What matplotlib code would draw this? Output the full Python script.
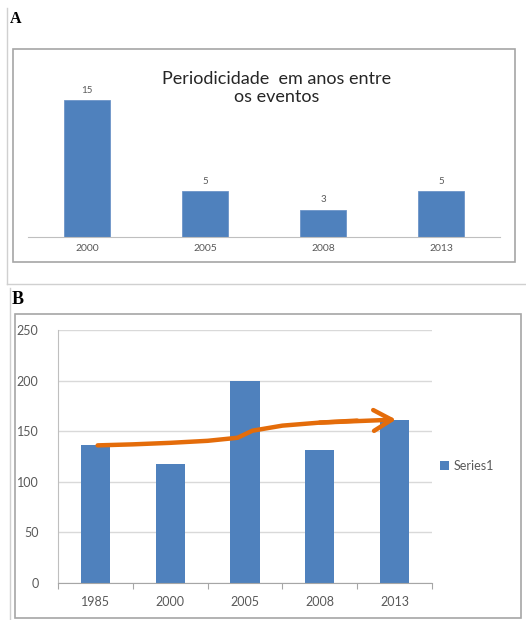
import matplotlib
matplotlib.use("Agg")
import matplotlib.pyplot as plt
from matplotlib.patches import Rectangle
from matplotlib.lines import Line2D

# ---- data ----
a_categories = ["2000", "2005", "2008", "2013"]
a_values = [15, 5, 3, 5]
a_title = "Periodicidade  em anos entre\nos eventos"

b_categories = ["1985", "2000", "2005", "2008", "2013"]
b_values = [136, 118, 200, 131, 161]
b_series = "Series1"
b_yticks = [0, 50, 100, 150, 200, 250]

# hand-drawn trend arrow (data coords of panel B)
arrow_x = [0.03, 0.5, 1.0, 1.5, 1.9, 2.0, 2.1, 2.5, 3.0, 3.5, 4.02]
arrow_y = [136, 137, 138.5, 140.5, 143.5, 147, 150.5, 155.5, 158.5, 160.5, 161.5]

W, H = 526, 620
BLUE = "#4F81BD"
ORANGE = "#E46C0A"
GRAY_TXT = "#595959"
plt.rcParams['font.family'] = ['Lato', 'DejaVu Sans']

fig = plt.figure(figsize=(W / 100, H / 100), dpi=100)

def fx(px):
    return px / W

def fy(py):
    return 1 - py / H

def box(x0, y0, x1, y1, ec="#a6a6a6", lw=1.2):
    fig.add_artist(Rectangle((fx(x0), fy(y1)), fx(x1) - fx(x0), fy(y0) - fy(y1),
                             transform=fig.transFigure, fill=False, ec=ec, lw=lw))

def line(xs, ys, c="#d0d0d0", lw=1.0):
    fig.add_artist(Line2D([fx(x) for x in xs], [fy(y) for y in ys],
                          transform=fig.transFigure, color=c, lw=lw))

# ---- outer frame lines ----
line([7, 7], [8, 284])
line([7, 526], [284, 284])
line([10, 10], [288, 620])

# ---- Panel A ----
fig.text(fx(10), fy(19), "A", family="Liberation Serif", fontweight="bold",
         fontsize=11.5, va="center", ha="left")
box(13, 49, 515, 262)

axA = fig.add_axes([fx(28), fy(237), fx(500) - fx(28), fy(60) - fy(237)])
xa = list(range(len(a_categories)))
axA.bar(xa, a_values, width=0.39, color=BLUE, edgecolor="#6d95c8", linewidth=0.6)
axA.set_xlim(-0.5, len(a_categories) - 0.5)
axA.set_ylim(0, 19.45)
for s in ["top", "left", "right"]:
    axA.spines[s].set_visible(False)
axA.spines["bottom"].set_color("#bfbfbf")
axA.set_yticks([])
axA.set_xticks(xa)
axA.set_xticklabels(a_categories, fontsize=7.5, color=GRAY_TXT)
axA.tick_params(axis="x", length=0, pad=5)
for xi, v in zip(xa, a_values):
    axA.annotate(str(v), (xi, v), xytext=(0, 4), textcoords="offset points",
                 ha="center", va="bottom", fontsize=7, color=GRAY_TXT)
fig.text(fx(277), fy(88), a_title, ha="center", va="center", fontsize=13,
         color="#262626", linespacing=1.2)

# ---- Panel B ----
fig.text(fx(12), fy(300), "B", family="Liberation Serif", fontweight="bold",
         fontsize=13, va="center", ha="left")
box(15, 314, 521, 618)

axB = fig.add_axes([fx(58), fy(583), fx(432) - fx(58), fy(330) - fy(583)])
xb = list(range(len(b_categories)))
axB.bar(xb, b_values, width=0.39, color=BLUE, label=b_series, zorder=2)
axB.set_xlim(-0.5, len(b_categories) - 0.5)
axB.set_ylim(0, 250)
axB.set_yticks(b_yticks)
axB.set_yticklabels([str(t) for t in b_yticks], fontsize=9, color=GRAY_TXT)
axB.yaxis.grid(True, color="#d9d9d9", lw=1.0, zorder=0)
axB.set_axisbelow(True)
axB.tick_params(axis="y", length=0, pad=14)
axB.set_xticks([x - 0.5 for x in xb] + [len(xb) - 0.5])
axB.set_xticklabels([])
axB.set_xticks(xb, minor=True)
axB.set_xticklabels(b_categories, minor=True, fontsize=9, color=GRAY_TXT)
axB.tick_params(axis="x", which="major", length=4, color="#a6a6a6", direction="out")
axB.tick_params(axis="x", which="minor", length=0, pad=9)
for s in ["top", "right"]:
    axB.spines[s].set_visible(False)
axB.spines["left"].set_color("#bfbfbf")
axB.spines["bottom"].set_color("#a6a6a6")

axB.plot(arrow_x[:-1], arrow_y[:-1], color=ORANGE, lw=3.2, solid_capstyle="round",
         solid_joinstyle="round", zorder=4)
axB.annotate("", xy=(arrow_x[-1], arrow_y[-1]), xytext=(arrow_x[-3], arrow_y[-3]),
             arrowprops=dict(arrowstyle="->,head_length=1.3,head_width=0.75",
                             color=ORANGE, lw=3.2, shrinkA=0, shrinkB=0,
                             capstyle="round", joinstyle="round"), zorder=4)

axB.legend(loc="center left", bbox_to_anchor=(fx(440), fy(466)),
           bbox_transform=fig.transFigure, frameon=False, fontsize=9,
           handlelength=0.7, handleheight=0.7, handletextpad=0.35,
           borderaxespad=0, borderpad=0, labelcolor=GRAY_TXT)

fig.savefig("out.png", dpi=100)
